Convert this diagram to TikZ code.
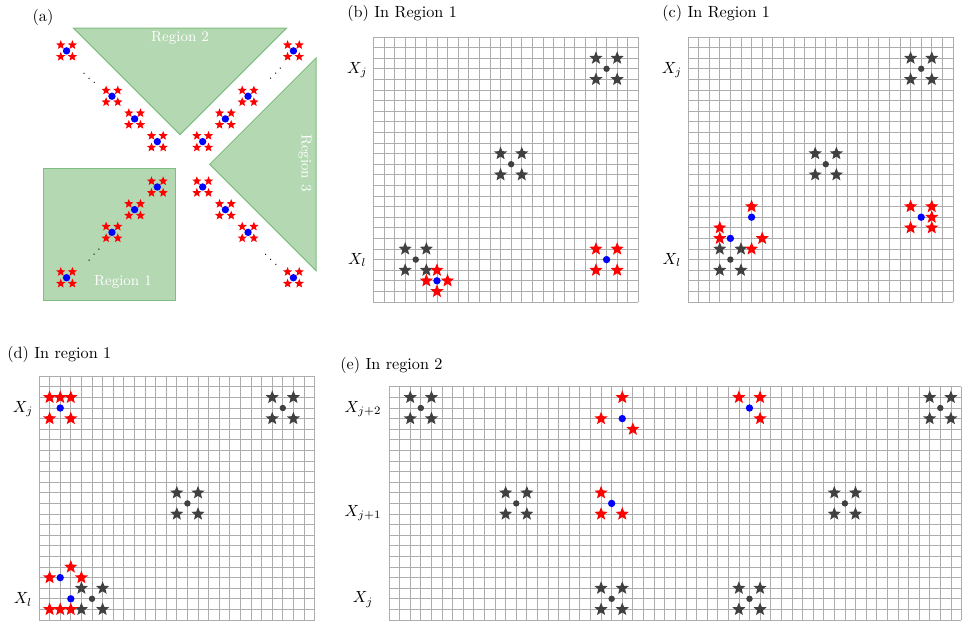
\documentclass[tikz,border=0pt]{standalone}
\usetikzlibrary{shapes.geometric}
\definecolor{regfill}{RGB}{180,216,178}
\definecolor{regedge}{RGB}{128,190,128}
\definecolor{ink}{RGB}{64,64,64}
\begin{document}
\begin{tikzpicture}[x=2.3mm, y=2.3mm,
    cellgrid/.style={draw=black!32, line width=0.45pt, step=1},
    rstar/.style={star, star points=5, star point ratio=2.3, fill=red, inner sep=0pt, minimum size=3mm},
    kstar/.style={rstar, fill=ink},
    smallstar/.style={rstar, minimum size=2.1mm},
    bdot/.style={circle, fill=blue, inner sep=0pt, minimum size=1.6mm},
    kdot/.style={bdot, fill=ink, minimum size=1.4mm},
    region/.style={fill=regfill, draw=regedge, line width=0.6pt},
    regtext/.style={text=white, font=\small},
    panel/.style={anchor=west},
    rowlab/.style={anchor=base, inner sep=0pt}
  ]
  \useasboundingbox (0,0) rectangle (90.75,58.77);

  % (a) the three regions
  \begin{scope}[shift={(16.98,43.27)}]
    \node (ta) at (-12.92,13.85) {(a)};
    \draw[region] (-10.05,12.85) -- (10.05,12.85) -- (0,2.8) -- cycle;
    \draw[region] (12.85,10.05) -- (12.85,-10.05) -- (2.8,0) -- cycle;
    \draw[region] (-12.85,-12.85) rectangle (-0.4,-0.4);
    \node[regtext] (r2) at (0,11.89) {Region 2};
    \node[regtext, rotate=-90] (r3) at (11.79,0.13) {Region 3};
    \node[regtext] (r1) at (-5.38,-11.07) {Region 1};
    \foreach \dx/\dy/\arm in {-1/1/nw, 1/1/ne, -1/-1/sw, 1/-1/se} {
      \foreach \k in {1,2,3,5} {
        \node[bdot] (\arm\k) at (\k*2.14*\dx, \k*2.14*\dy) {};
        \foreach \sx/\sy [count=\j] in {-1/1, 1/1, -1/-1, 1/-1}
          \node[smallstar] (\arm\k s\j) at (\k*2.14*\dx+0.55*\sx, \k*2.14*\dy+0.55*\sy) {};
      }
    }
    \node[font=\scriptsize] (nwdots) at (-8.56,8.56) {$\ddots$};
    \node[font=\scriptsize, rotate=90] (nedots) at (8.56,8.56) {$\ddots$};
    \node[font=\scriptsize, rotate=90] (swdots) at (-8.56,-8.56) {$\ddots$};
    \node[font=\scriptsize] (sedots) at (8.56,-8.56) {$\ddots$};
  \end{scope}

  % (b) In Region 1
  \begin{scope}[shift={(35.22,30.28)}]
    \draw[cellgrid] (0,0) grid (25,25);
    \node[panel] (tb) at (-2.99,27.2) {(b) In Region 1};
    \node[rowlab] (bxj) at (-1.52,21.6) {$X_j$};
    \node[rowlab] (bxl) at (-1.52,3.55) {$X_l$};
    \foreach \cx/\cy [count=\i] in {22/22, 13/13, 4/4} {
      \node[kdot] (bk\i) at (\cx,\cy) {};
      \foreach \sx/\sy [count=\j] in {-1/1, 1/1, -1/-1, 1/-1}
        \node[kstar] (bk\i s\j) at (\cx+\sx,\cy+\sy) {};
    }
    \node[bdot] (bb1) at (22,4) {};
    \node[bdot] (bb2) at (6,2) {};
    \foreach \px/\py [count=\j] in {21/5, 23/5, 21/3, 23/3, 6/3, 5/2, 7/2, 6/1}
      \node[rstar] (br\j) at (\px,\py) {};
  \end{scope}

  % (c) In Region 1
  \begin{scope}[shift={(64.9,30.28)}]
    \draw[cellgrid] (0,0) grid (25,25);
    \node[panel] (tc) at (-2.96,27.2) {(c) In Region 1};
    \node[rowlab] (cxj) at (-1.52,21.6) {$X_j$};
    \node[rowlab] (cxl) at (-1.52,3.55) {$X_l$};
    \foreach \cx/\cy [count=\i] in {22/22, 13/13, 4/4} {
      \node[kdot] (ck\i) at (\cx,\cy) {};
      \foreach \sx/\sy [count=\j] in {-1/1, 1/1, -1/-1, 1/-1}
        \node[kstar] (ck\i s\j) at (\cx+\sx,\cy+\sy) {};
    }
    \node[bdot] (cb1) at (22,8) {};
    \node[bdot] (cb2) at (6,8) {};
    \node[bdot] (cb3) at (4,6) {};
    \foreach \px/\py [count=\j] in {21/9, 23/9, 23/8, 21/7, 23/7, 6/9, 3/7, 3/6, 7/6, 6/5}
      \node[rstar] (cr\j) at (\px,\py) {};
  \end{scope}

  % (d) In region 1
  \begin{scope}[shift={(3.68,0.28)}]
    \draw[cellgrid] (0,0) grid (26,23);
    \node[panel] (td) at (-3.53,25.05) {(d) In region 1};
    \node[rowlab] (dxj) at (-1.51,19.58) {$X_j$};
    \node[rowlab] (dxl) at (-1.51,1.55) {$X_l$};
    \foreach \cx/\cy [count=\i] in {23/20, 14/11, 5/2} {
      \node[kdot] (dk\i) at (\cx,\cy) {};
      \foreach \sx/\sy [count=\j] in {-1/1, 1/1, -1/-1, 1/-1}
        \node[kstar] (dk\i s\j) at (\cx+\sx,\cy+\sy) {};
    }
    \node[bdot] (db1) at (2,20) {};
    \node[bdot] (db2) at (2,4) {};
    \node[bdot] (db3) at (3,2) {};
    \foreach \px/\py [count=\j] in {1/21, 2/21, 3/21, 1/19, 3/19, 1/4, 3/5, 4/4, 1/1, 2/1, 3/1}
      \node[rstar] (dr\j) at (\px,\py) {};
  \end{scope}

  % (e) In region 2
  \begin{scope}[shift={(36.7,0.28)}]
    \draw[cellgrid] (0,0) grid (54,22);
    \node[panel] (te) at (-5.13,24.03) {(e) In region 2};
    \node[rowlab] (exj2) at (-2.45,19.58) {$X_{j+2}$};
    \node[rowlab] (exj1) at (-2.45,9.8) {$X_{j+1}$};
    \node[rowlab] (exj) at (-2.45,1.64) {$X_j$};
    \foreach \cx/\cy [count=\i] in {3/20, 12/11, 21/2, 52/20, 43/11, 34/2} {
      \node[kdot] (ek\i) at (\cx,\cy) {};
      \foreach \sx/\sy [count=\j] in {-1/1, 1/1, -1/-1, 1/-1}
        \node[kstar] (ek\i s\j) at (\cx+\sx,\cy+\sy) {};
    }
    \node[bdot] (eb1) at (22,19) {};
    \node[bdot] (eb2) at (21,11) {};
    \node[bdot] (eb3) at (34,20) {};
    \foreach \px/\py [count=\j] in {22/21, 20/19, 23/18, 20/12, 20/10, 22/10, 33/21, 35/21, 35/19}
      \node[rstar] (er\j) at (\px,\py) {};
  \end{scope}
\end{tikzpicture}
\end{document}
